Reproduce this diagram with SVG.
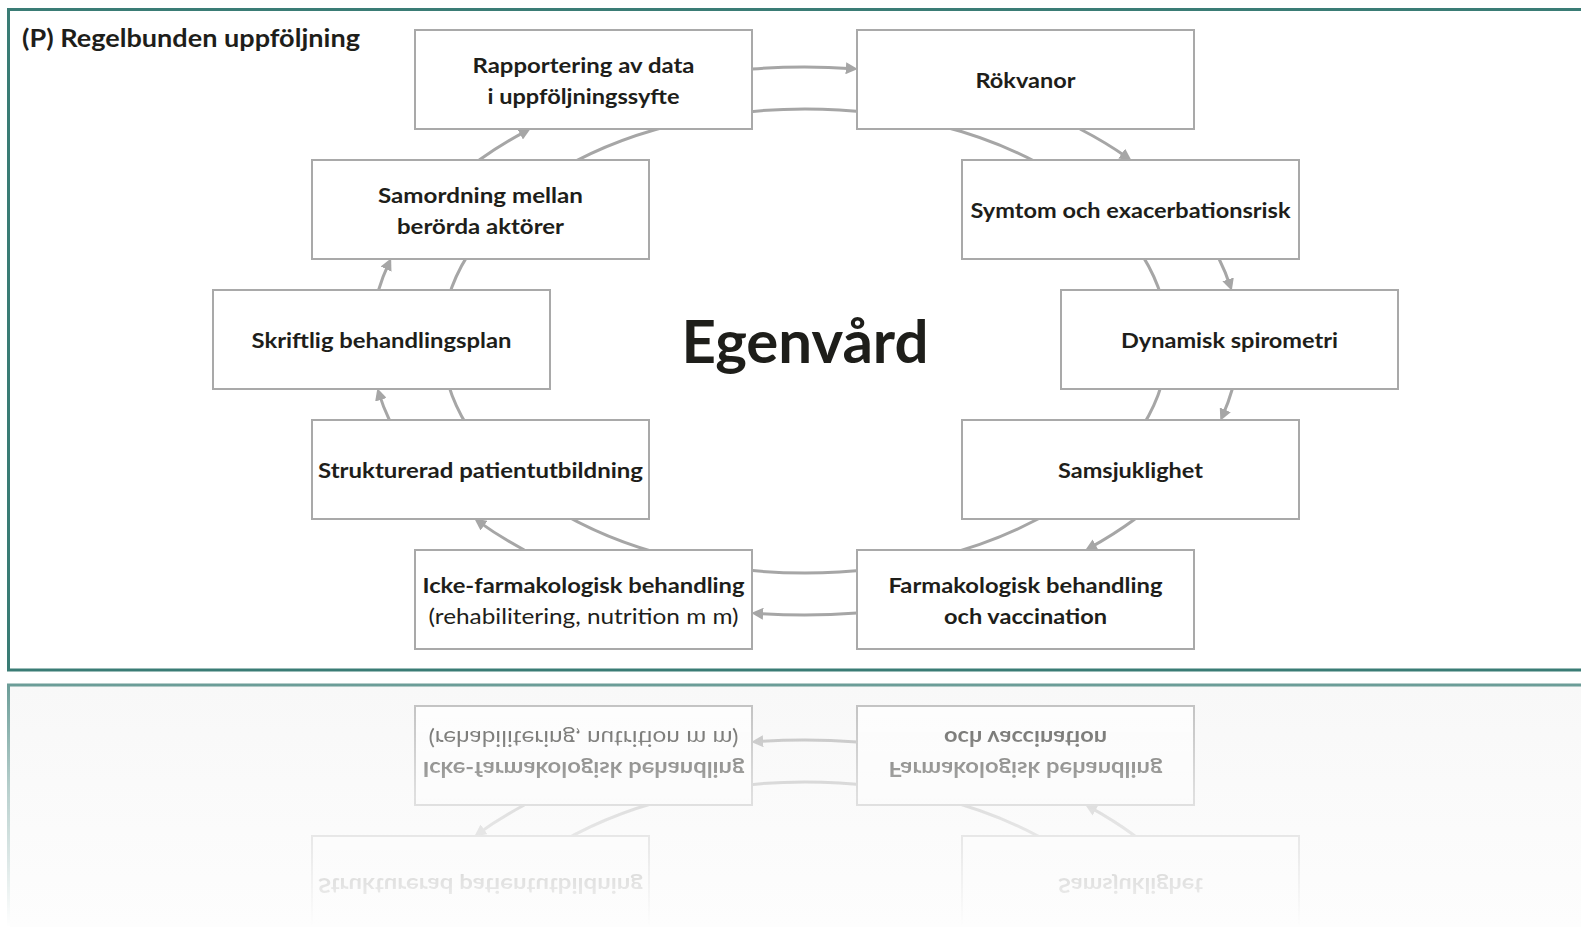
<svg xmlns="http://www.w3.org/2000/svg" xmlns:xlink="http://www.w3.org/1999/xlink" width="1581" height="927" viewBox="0 0 1581 927">
  <style>
    .frame { fill: none; stroke: #3a7c75; stroke-width: 3; }
    .box { fill: #ffffff; stroke: #a9a9a9; stroke-width: 2; }
    .lbl { font-family: Lato, "Open Sans", "Liberation Sans", sans-serif; font-weight: 700; font-size: 21px; fill: #1e1e1a; text-anchor: middle; }
    .reg { font-weight: 400; }
    .title { font-family: Lato, "Open Sans", "Liberation Sans", sans-serif; font-weight: 700; font-size: 24px; fill: #1e1e1a; }
    .hub { font-family: Lato, "Open Sans", "Liberation Sans", sans-serif; font-weight: 700; font-size: 60px; fill: #1e1e1a; text-anchor: middle; }
    .ring { fill: none; stroke: #a6a6a6; stroke-width: 3; }
    .flow { fill: none; stroke: #a6a6a6; stroke-width: 3; marker-end: url(#arrow); }
  </style>
  <defs>
    <marker id="arrow" markerUnits="userSpaceOnUse" markerWidth="12" markerHeight="12" viewBox="0 0 10 10" refX="6" refY="5" orient="auto">
      <path d="M0,0 L10,5 L0,10 Z" fill="#a6a6a6"/>
    </marker>
    <linearGradient id="fadeGrad" gradientUnits="userSpaceOnUse" x1="0" y1="684" x2="0" y2="927">
      <stop offset="0" stop-color="#ffffff" stop-opacity="0.75"/>
      <stop offset="0.45" stop-color="#ffffff" stop-opacity="0.35"/>
      <stop offset="1" stop-color="#ffffff" stop-opacity="0"/>
    </linearGradient>
    <mask id="fade" maskUnits="userSpaceOnUse" x="0" y="677" width="1581" height="250">
      <rect x="0" y="677.5" width="1581" height="250" fill="url(#fadeGrad)"/>
    </mask>
    <linearGradient id="floorGrad" gradientUnits="userSpaceOnUse" x1="0" y1="686" x2="0" y2="927">
      <stop offset="0" stop-color="#f8f8f8"/>
      <stop offset="1" stop-color="#fdfdfd"/>
    </linearGradient>
  </defs>

  <rect x="0" y="0" width="1581" height="927" fill="#ffffff"/>

  <g id="scene">
    <path class="frame" d="M1590,9.5 H8.5 V670 H1590"/>
    <text id="title" class="title" x="22" y="46.5" textLength="338" lengthAdjust="spacingAndGlyphs">(P) Regelbunden uppföljning</text>

    <!-- cycle: inner ring plus clockwise arrow arcs on the outer ellipse -->
    <g id="connectors">
      <ellipse class="ring" cx="805" cy="341" rx="363" ry="232"/>
      <path class="flow" d="M752,69 A434,274 0 0 1 853,68.7"/>
      <path class="flow" d="M1080,129 A434,274 0 0 1 1127.6,157.7"/>
      <path class="flow" d="M1219.1,259 A434,274 0 0 1 1230.3,286.2"/>
      <path class="flow" d="M1232.3,389 A434,274 0 0 1 1222.3,416.4"/>
      <path class="flow" d="M1135,519 A434,274 0 0 1 1089.2,548.1"/>
      <path class="flow" d="M857,613 A434,274 0 0 1 756,613.3"/>
      <path class="flow" d="M524.3,550 A434,274 0 0 1 478.2,521.4"/>
      <path class="flow" d="M389.4,420 A434,274 0 0 1 378.8,392.9"/>
      <path class="flow" d="M378.6,290 A434,274 0 0 1 389.1,262.6"/>
      <path class="flow" d="M479.2,160 A434,274 0 0 1 526.5,130.8"/>
    </g>

    <g id="n-rapportering">
      <rect class="box" x="415" y="30" width="337" height="99"/>
      <text class="lbl" x="583.5" y="73" textLength="222" lengthAdjust="spacingAndGlyphs">Rapportering av data</text>
      <text class="lbl" x="583.5" y="104" textLength="192" lengthAdjust="spacingAndGlyphs">i uppföljningssyfte</text>
    </g>
    <g id="n-rokvanor">
      <rect class="box" x="857" y="30" width="337" height="99"/>
      <text class="lbl" x="1025.5" y="87.5" textLength="100" lengthAdjust="spacingAndGlyphs">Rökvanor</text>
    </g>
    <g id="n-symtom">
      <rect class="box" x="962" y="160" width="337" height="99"/>
      <text class="lbl" x="1130.5" y="217.5" textLength="320" lengthAdjust="spacingAndGlyphs">Symtom och exacerbationsrisk</text>
    </g>
    <g id="n-spirometri">
      <rect class="box" x="1061" y="290" width="337" height="99"/>
      <text class="lbl" x="1229.5" y="347.5" textLength="217" lengthAdjust="spacingAndGlyphs">Dynamisk spirometri</text>
    </g>
    <g id="n-samsjuklighet">
      <rect class="box" x="962" y="420" width="337" height="99"/>
      <text class="lbl" x="1130.5" y="477.5" textLength="145" lengthAdjust="spacingAndGlyphs">Samsjuklighet</text>
    </g>
    <g id="n-farmakologisk">
      <rect class="box" x="857" y="550" width="337" height="99"/>
      <text class="lbl" x="1025.5" y="593" textLength="274" lengthAdjust="spacingAndGlyphs">Farmakologisk behandling</text>
      <text class="lbl" x="1025.5" y="624" textLength="163" lengthAdjust="spacingAndGlyphs">och vaccination</text>
    </g>
    <g id="n-icke-farmakologisk">
      <rect class="box" x="415" y="550" width="337" height="99"/>
      <text class="lbl" x="583.5" y="593" textLength="322" lengthAdjust="spacingAndGlyphs">Icke-farmakologisk behandling</text>
      <text class="lbl reg" x="583.5" y="624" textLength="310" lengthAdjust="spacingAndGlyphs">(rehabilitering, nutrition m m)</text>
    </g>
    <g id="n-patientutbildning">
      <rect class="box" x="312" y="420" width="337" height="99"/>
      <text class="lbl" x="480.5" y="477.5" textLength="325" lengthAdjust="spacingAndGlyphs">Strukturerad patientutbildning</text>
    </g>
    <g id="n-behandlingsplan">
      <rect class="box" x="213" y="290" width="337" height="99"/>
      <text class="lbl" x="381.5" y="347.5" textLength="260" lengthAdjust="spacingAndGlyphs">Skriftlig behandlingsplan</text>
    </g>
    <g id="n-samordning">
      <rect class="box" x="312" y="160" width="337" height="99"/>
      <text class="lbl" x="480.5" y="203" textLength="205" lengthAdjust="spacingAndGlyphs">Samordning mellan</text>
      <text class="lbl" x="480.5" y="234" textLength="167" lengthAdjust="spacingAndGlyphs">berörda aktörer</text>
    </g>

    <g id="n-egenvard">
      <text class="hub" x="805" y="363" textLength="247" lengthAdjust="spacingAndGlyphs">Egenvård</text>
    </g>
  </g>

  <!-- mirrored floor reflection under the frame -->
  <g id="reflection">
    <rect x="10" y="686" width="1575" height="241" fill="url(#floorGrad)"/>
    <g mask="url(#fade)">
      <use xlink:href="#scene" href="#scene" transform="translate(0,1355) scale(1,-1)"/>
    </g>
  </g>
</svg>
